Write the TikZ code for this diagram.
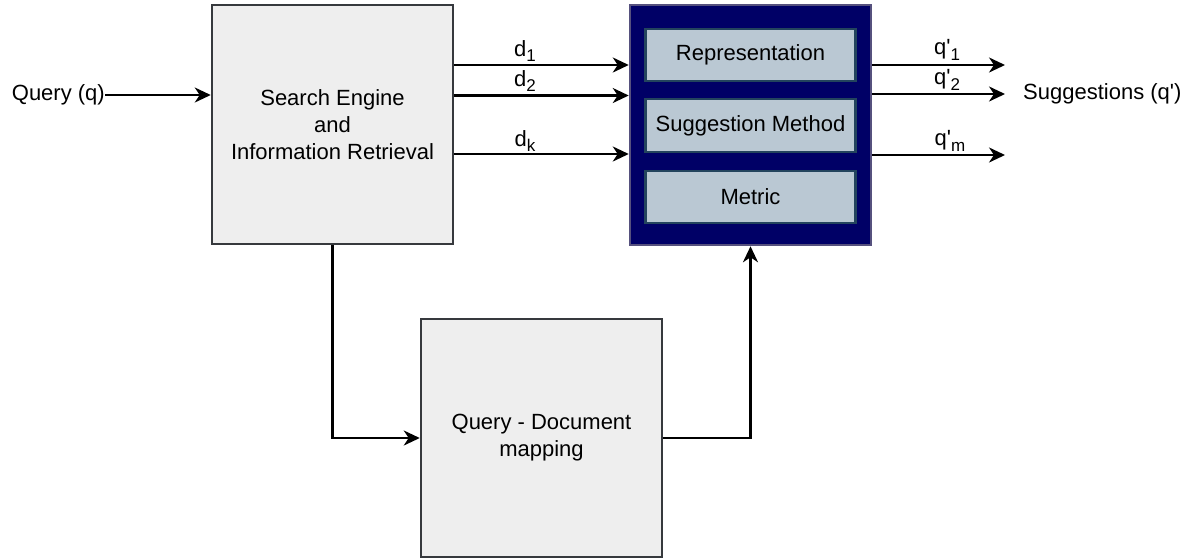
\documentclass[tikz,border=0pt]{standalone}
\usepackage{fontspec}
\setmainfont{Liberation Sans}
\usetikzlibrary{arrows.meta}
\definecolor{gfill}{HTML}{EEEEEE}
\definecolor{gline}{HTML}{36393D}
\definecolor{navy}{HTML}{000066}
\definecolor{navyline}{HTML}{56517E}
\definecolor{ifill}{HTML}{BAC8D3}
\definecolor{iline}{HTML}{23445D}
\newcommand{\sbs}[1]{\raisebox{-0.45ex}{\fontsize{17}{17}\selectfont #1}}
\newcommand{\qp}{q\textquotesingle}
\tikzset{
  gbox/.style={draw=gline, fill=gfill, line width=2.5pt, minimum width=241pt, minimum height=239pt, align=center, inner sep=0pt},
  darkbox/.style={draw=navyline, fill=navy, line width=2.5pt, minimum width=241pt, minimum height=240pt, inner sep=0pt},
  ibox/.style={draw=iline, fill=ifill, line width=2.5pt, minimum width=210pt, minimum height=52pt, inner sep=0pt},
  lbl/.style={inner sep=0pt},
  arr/.style={line width=2.5pt, -{Stealth[length=16pt,width=15pt,inset=5pt]}},
}
\begin{document}
\begin{tikzpicture}[x=1pt,y=-1pt,font=\fontsize{22}{27}\selectfont]
\useasboundingbox (0,0) rectangle (1193,558);
% main boxes
\node[gbox] (se) at (332.5,124.5) {Search Engine\\and\\Information Retrieval};
\node[gbox, minimum height=238pt] (qd) at (541.5,438) {Query - Document\\mapping};
\node[darkbox] (dark) at (750.5,125) {};
\node[ibox] (rep) at (750.5,55) {Representation};
\node[ibox, minimum height=53pt] (sug) at (750.5,125.5) {Suggestion Method};
\node[ibox] (met) at (750.5,197) {Metric};
% input
\node[lbl, anchor=east] (q) at (105,95) {Query (q)};
\draw[arr] (q.east) -- (se.west |- q.east);
% d arrows
\coordinate (y1) at (0,65);
\coordinate (y2) at (0,95.5);
\coordinate (yk) at (0,154);
\draw[arr] (se.east |- y1) -- (dark.west |- y1);
\draw[arr] (se.east |- y2) -- (dark.west |- y2);
\draw[arr] (se.east |- yk) -- (dark.west |- yk);
\node[lbl] (d1) at (525,51) {d\sbs{1}};
\node[lbl] (d2) at (525,81) {d\sbs{2}};
\node[lbl] (dk) at (525,141) {d\sbs{k}};
% outputs
\coordinate (o1) at (1005,65);
\coordinate (o2) at (1005,94);
\coordinate (om) at (1005,155);
\draw[arr] (dark.east |- o1) -- (o1);
\draw[arr] (dark.east |- o2) -- (o2);
\draw[arr] (dark.east |- om) -- (om);
\node[lbl] (q1) at (947,50) {\qp\sbs{1}};
\node[lbl] (q2) at (947,80) {\qp\sbs{2}};
\node[lbl] (qm) at (950,141) {\qp\sbs{m}};
\node[lbl, anchor=west] (sg) at (1023,94) {Suggestions (\qp)};
% mapping connectors
\draw[arr] (se.south) |- (qd.west);
\draw[arr] (qd.east) -| (dark.south);
\end{tikzpicture}
\end{document}
